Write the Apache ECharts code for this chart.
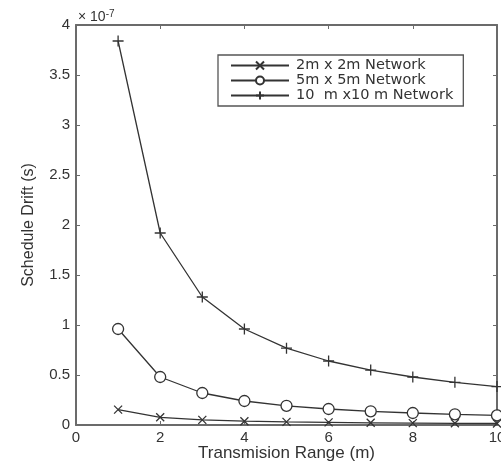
<!DOCTYPE html>
<html>
<head>
<meta charset="utf-8">
<script src="https://cdn.jsdelivr.net/npm/echarts@6/dist/echarts.min.js"></script>
<style>
  html, body { margin: 0; padding: 0; background: #fff; }
  #chart { width: 501px; height: 465px; }
</style>
</head>
<body>
<div id="chart"></div>
<script>
// transmission range (m)
const ranges = [1, 2, 3, 4, 5, 6, 7, 8, 9, 10];
// schedule drift, in units of 1e-7 s
const net2 = [0.154, 0.077, 0.051, 0.038, 0.031, 0.026, 0.022, 0.019, 0.017, 0.015];
const net5 = [0.96, 0.48, 0.32, 0.24, 0.192, 0.16, 0.137, 0.12, 0.107, 0.096];
const net10 = [3.84, 1.92, 1.28, 0.96, 0.768, 0.64, 0.549, 0.48, 0.427, 0.384];
const seriesNames = ["2m x 2m Network", "5m x 5m Network", "10  m x10 m Network"];

const ink = "#333";
const axisGrey = "#6b6b6b";
const font = "Liberation Sans";

const pair = (vals) => vals.map((v, i) => [ranges[i], v]);

const crossSym = "path://M0,0L10,10M10,0L0,10";
const plusSym = "path://M5,0L5,10M0,5L10,5";

function makeSeries(name, vals, symbol, size) {
  return {
    name: name,
    type: "line",
    data: pair(vals),
    symbol: symbol,
    symbolSize: size,
    showAllSymbol: true,
    lineStyle: { color: ink, width: 1.3 },
    itemStyle: { color: symbol === "circle" ? "#fff" : "none", borderColor: ink, borderWidth: 1.3 },
    emphasis: { disabled: true }
  };
}

const xBase = {
  type: "value", min: 0, max: 10, interval: 2,
  axisLine: { show: true, onZero: false, lineStyle: { color: axisGrey, width: 2 } },
  axisTick: { show: true, inside: true, length: 4, lineStyle: { color: axisGrey } },
  splitLine: { show: false }
};
const yBase = {
  type: "value", min: 0, max: 4, interval: 0.5,
  axisLine: { show: true, onZero: false, lineStyle: { color: axisGrey, width: 2 } },
  axisTick: { show: true, inside: true, length: 4, lineStyle: { color: axisGrey } },
  splitLine: { show: false }
};

const chart = echarts.init(document.getElementById("chart"));
chart.setOption({
  animation: false,
  backgroundColor: "#fff",
  textStyle: { fontFamily: font },
  grid: { left: 76, right: 4, top: 25, bottom: 40, outerBoundsMode: "none", containLabel: false },
  legend: {
    orient: "vertical",
    left: 218, top: 55,
    padding: [3, 10, 3, 12],
    itemGap: 0,
    itemWidth: 58, itemHeight: 10,
    borderColor: "#555", borderWidth: 1.3,
    backgroundColor: "#fff",
    textStyle: { fontFamily: "DejaVu Sans", fontSize: 14.5, lineHeight: 14.7, color: ink, padding: [0, 0, 0, 2] },
    data: seriesNames
  },
  xAxis: [
    Object.assign({}, xBase, {
      position: "bottom",
      name: "Transmision Range (m)", nameLocation: "middle", nameGap: 20, nameMoveOverlap: false,
      nameTextStyle: { fontFamily: font, fontSize: 17, color: ink },
      axisLabel: { fontFamily: font, fontSize: 15, color: ink, margin: 5 }
    }),
    Object.assign({}, xBase, { position: "top", axisLabel: { show: false } })
  ],
  yAxis: [
    Object.assign({}, yBase, {
      position: "left",
      name: "Schedule Drift (s)", nameLocation: "middle", nameGap: 39, nameMoveOverlap: false,
      nameTextStyle: { fontFamily: font, fontSize: 16, color: ink },
      axisLabel: { fontFamily: font, fontSize: 15, color: ink, margin: 6 }
    }),
    Object.assign({}, yBase, { position: "right", axisLabel: { show: false } })
  ],
  graphic: [{
    type: "text", left: 78, top: 9,
    style: {
      text: "{a|× 10}{b|-7}",
      rich: {
        a: { fontFamily: font, fontSize: 14, fill: ink },
        b: { fontFamily: font, fontSize: 10, fill: ink, verticalAlign: "top", padding: [0, 0, 7, 0] }
      }
    }
  }],
  series: [
    makeSeries(seriesNames[0], net2, crossSym, 8),
    makeSeries(seriesNames[1], net5, "circle", 11),
    makeSeries(seriesNames[2], net10, plusSym, 11)
  ]
});
</script>
</body>
</html>
